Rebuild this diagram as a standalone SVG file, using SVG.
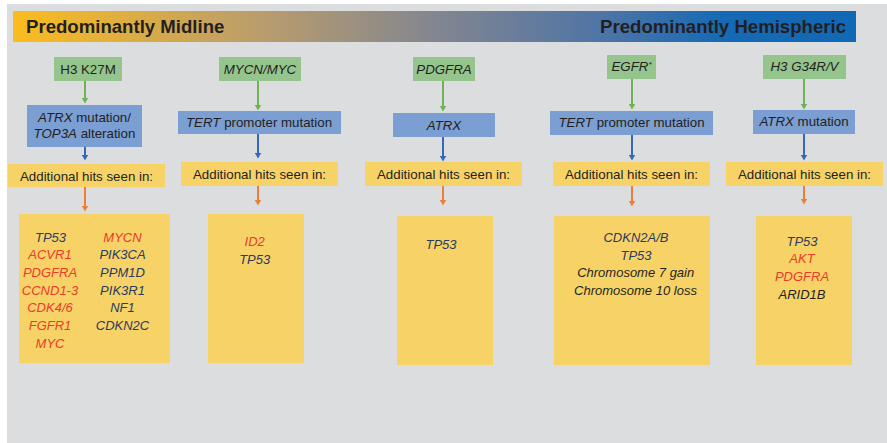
<svg xmlns="http://www.w3.org/2000/svg" width="887" height="443" viewBox="0 0 887 443">
<defs>
<linearGradient id="hdr" x1="0" y1="0" x2="1" y2="0">
<stop offset="0" stop-color="#FBBC1E"/>
<stop offset="0.3" stop-color="#B89C6E"/>
<stop offset="0.5" stop-color="#838690"/>
<stop offset="0.7" stop-color="#4E74A6"/>
<stop offset="0.84" stop-color="#166AB4"/>
<stop offset="1" stop-color="#1168B5"/>
</linearGradient>
<marker id="ag" markerUnits="userSpaceOnUse" markerWidth="7" markerHeight="7" refX="0.5" refY="3.5" orient="auto"><path d="M0,0 L6,3.5 L0,7 z" fill="#6DB253"/></marker>
<marker id="ab" markerUnits="userSpaceOnUse" markerWidth="7" markerHeight="7" refX="0.5" refY="3.5" orient="auto"><path d="M0,0 L6,3.5 L0,7 z" fill="#3568BA"/></marker>
<marker id="ao" markerUnits="userSpaceOnUse" markerWidth="7" markerHeight="7" refX="0.5" refY="3.5" orient="auto"><path d="M0,0 L6,3.5 L0,7 z" fill="#EE7E36"/></marker>
</defs>
<style>
text{font-family:"Liberation Sans",Arial,sans-serif;fill:#231F20;}
.h{font-size:18.6px;font-weight:bold;}
.t{font-size:13.3px;text-anchor:middle;}
.i{font-style:italic;}
.g{font-size:13px;font-style:italic;text-anchor:middle;}
.nv{fill:#2B3A5E;}
.rd{fill:#EC3A2C;}
.gr{fill:#95C48D;}
.bl{fill:#7B9ED3;}
.ye{fill:#F7D367;}
.lg{stroke:#6DB253;stroke-width:2;fill:none;marker-end:url(#ag);}
.lb{stroke:#3568BA;stroke-width:2;fill:none;marker-end:url(#ab);}
.lo{stroke:#EE7E36;stroke-width:2;fill:none;marker-end:url(#ao);}
</style>
<rect x="0" y="0" width="887" height="443" fill="#FFFFFF"/>
<rect x="7" y="4" width="880" height="439" fill="#DCDDDF"/>
<g id="header">
<rect x="13" y="11" width="843" height="31" fill="url(#hdr)"/>
<text class="h" x="26" y="33">Predominantly Midline</text>
<text class="h" x="846" y="33" text-anchor="end">Predominantly Hemispheric</text>
</g>
<g id="connectors">
<line class="lg" x1="85" y1="81" x2="85" y2="98"/>
<line class="lb" x1="85" y1="147" x2="85" y2="155"/>
<line class="lo" x1="85" y1="187" x2="85" y2="206"/>
<line class="lg" x1="258" y1="81" x2="258" y2="105"/>
<line class="lb" x1="258" y1="134" x2="258" y2="153"/>
<line class="lo" x1="258" y1="186" x2="258" y2="200"/>
<line class="lg" x1="443" y1="81" x2="443" y2="106"/>
<line class="lb" x1="443" y1="137" x2="443" y2="156"/>
<line class="lo" x1="443" y1="186" x2="443" y2="200"/>
<line class="lg" x1="632" y1="79" x2="632" y2="104"/>
<line class="lb" x1="632" y1="135" x2="632" y2="155"/>
<line class="lo" x1="632" y1="186" x2="632" y2="201"/>
<line class="lg" x1="804" y1="79" x2="804" y2="104"/>
<line class="lb" x1="804" y1="134" x2="804" y2="155"/>
<line class="lo" x1="804" y1="186" x2="804" y2="199"/>
</g>
<g id="col1-h3k27m"><rect class="gr" x="54" y="57" width="68" height="24"/><text class="t" x="88" y="74">H3 K27M</text></g>
<g id="col1-atrx"><rect class="bl" x="27" y="105" width="115" height="42"/>
<text class="t" x="84.5" y="122"><tspan class="i">ATRX</tspan> mutation/</text>
<text class="t" x="84.5" y="137.5"><tspan class="i">TOP3A</tspan> alteration</text></g>
<g id="col1-add"><rect class="ye" x="8" y="164" width="157" height="23"/><text class="t" x="86.5" y="180.5">Additional hits seen in:</text></g>
<g id="col1-hits"><rect class="ye" x="19" y="214" width="151" height="149"/>
<text class="g nv" x="50.5" y="241.7">TP53</text>
<text class="g rd" x="50" y="259.4">ACVR1</text>
<text class="g rd" x="50" y="277">PDGFRA</text>
<text class="g rd" x="50" y="294.7">CCND1-3</text>
<text class="g rd" x="50" y="312.4">CDK4/6</text>
<text class="g rd" x="50" y="330">FGFR1</text>
<text class="g rd" x="50" y="347.7">MYC</text>
<text class="g rd" x="122.5" y="241.7">MYCN</text>
<text class="g nv" x="122.5" y="259.4">PIK3CA</text>
<text class="g nv" x="122.5" y="277">PPM1D</text>
<text class="g nv" x="122.5" y="294.7">PIK3R1</text>
<text class="g nv" x="122.5" y="312.4">NF1</text>
<text class="g nv" x="122.5" y="330">CDKN2C</text></g>
<g id="col2-mycn"><rect class="gr" x="219" y="57" width="82" height="24"/><text class="t i" x="260" y="74">MYCN/MYC</text></g>
<g id="col2-tert"><rect class="bl" x="178" y="111" width="163" height="23"/><text class="t" x="259" y="127.3"><tspan class="i">TERT</tspan> promoter mutation</text></g>
<g id="col2-add"><rect class="ye" x="181" y="162" width="157" height="24"/><text class="t" x="259.5" y="179">Additional hits seen in:</text></g>
<g id="col2-hits"><rect class="ye" x="208" y="214" width="96" height="149"/>
<text class="g rd" x="254.7" y="246">ID2</text>
<text class="g nv" x="254.7" y="263.7">TP53</text></g>
<g id="col3-pdgfra"><rect class="gr" x="413" y="57" width="62" height="24"/><text class="t i" x="444" y="74">PDGFRA</text></g>
<g id="col3-atrx"><rect class="bl" x="393" y="113" width="102" height="24"/><text class="t i" x="444" y="129.5">ATRX</text></g>
<g id="col3-add"><rect class="ye" x="365" y="162" width="157" height="24"/><text class="t" x="443.5" y="179.3">Additional hits seen in:</text></g>
<g id="col3-hits"><rect class="ye" x="397" y="216" width="96" height="149"/>
<text class="g nv" x="441" y="248.5">TP53</text></g>
<g id="col4-egfr"><rect class="gr" x="607" y="55" width="49" height="24"/><text class="t i" x="631.5" y="70.7">EGFR<tspan font-size="8" dy="-4">*</tspan></text></g>
<g id="col4-tert"><rect class="bl" x="550" y="111" width="163" height="24"/><text class="t" x="631.5" y="126.5"><tspan class="i">TERT</tspan> promoter mutation</text></g>
<g id="col4-add"><rect class="ye" x="553" y="162" width="157" height="24"/><text class="t" x="631.5" y="179.3">Additional hits seen in:</text></g>
<g id="col4-hits"><rect class="ye" x="554" y="216" width="156" height="149"/>
<text class="g nv" x="636" y="241.7">CDKN2A/B</text>
<text class="g nv" x="636" y="259.5">TP53</text>
<text class="g" x="635.7" y="277.3">Chromosome 7 gain</text>
<text class="g" x="635.5" y="294.5">Chromosome 10 loss</text></g>
<g id="col5-h3g34"><rect class="gr" x="763" y="55" width="83" height="24"/><text class="t i" x="804.5" y="70.5">H3 G34R/V</text></g>
<g id="col5-atrx"><rect class="bl" x="753" y="110" width="102" height="24"/><text class="t" x="804" y="126.2"><tspan class="i">ATRX</tspan> mutation</text></g>
<g id="col5-add"><rect class="ye" x="726" y="162" width="157" height="24"/><text class="t" x="804.5" y="179">Additional hits seen in:</text></g>
<g id="col5-hits"><rect class="ye" x="756" y="216" width="96" height="149"/>
<text class="g nv" x="802" y="245.7">TP53</text>
<text class="g rd" x="802" y="263.3">AKT</text>
<text class="g rd" x="802" y="281">PDGFRA</text>
<text class="g" x="802" y="298.5">ARID1B</text></g>
</svg>
